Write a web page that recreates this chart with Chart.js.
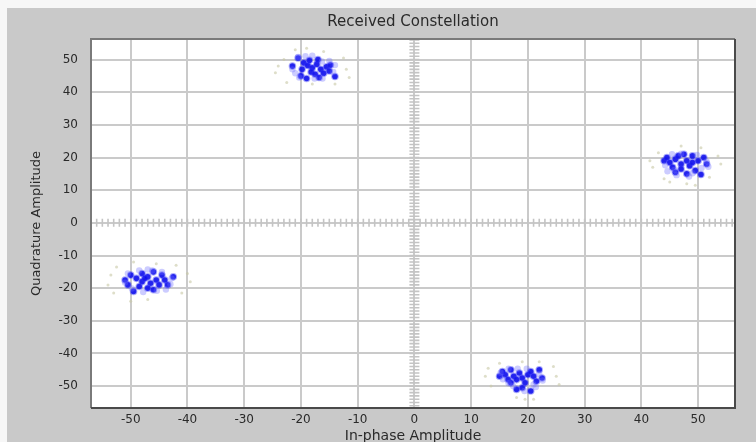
<!DOCTYPE html>
<html>
<head>
<meta charset="utf-8">
<script src="https://cdn.jsdelivr.net/npm/chart.js@4/dist/chart.umd.min.js"></script>
<style>
  html, body { margin: 0; padding: 0; background: #c8c8c8; }
  canvas { display: block; }
</style>
</head>
<body>
<canvas id="c" width="756" height="442"></canvas>
<script>
// ---- Data ----
const chartTitle = "Received Constellation";
const xTitle = "In-phase Amplitude";
const yTitle = "Quadrature Amplitude";
const xTickValues = [-50, -40, -30, -20, -10, 0, 10, 20, 30, 40, 50];
const yTickValues = [-50, -40, -30, -20, -10, 0, 10, 20, 30, 40, 50];

// cluster near (-18, 48)
const c1Dark = [[-20.5,50.5],[-19.5,49],[-18.8,48.2],[-18,47.5],[-17.2,48.6],[-16.5,47],[-15.5,47.8],[-14.8,48.3],[-19.8,47],[-18.2,46.2],[-17.5,45.5],[-16,45.8],[-14,44.8],[-20,45],[-18.5,49.8],[-17,50],[-21.5,48],[-15,46.5],[-16.8,44.5],[-19,44.2]];
const c1Light = [[-21.5,47],[-20.5,50.8],[-20.3,44.5],[-14.3,46.2],[-15,49.6],[-18,51.2],[-17.6,44.2],[-16.2,44.2],[-21,45.8],[-14,48.3],[-19.2,51],[-16.3,49.4]];
const c1Faint = [[-24,48],[-23,50],[-12,47],[-11.5,44.5],[-19,53.5],[-16,52.5],[-22.5,43],[-18,42.5],[-14,42.5],[-12.5,50.5],[-21,53],[-24.5,46]];

// cluster near (48, 18)
const c2Dark = [[44,19],[45,18.5],[46,19.5],[47,18],[48,19],[48.5,17.5],[49,18.5],[50,19],[51,20],[46.5,20.5],[47.5,21],[45.5,17],[47,16.5],[48,15],[49.5,16],[50.5,14.8],[46,15.5],[44.5,20],[49,20.5],[51.5,18]];
const c2Light = [[44.2,17.6],[45.4,21],[47,21.2],[49.8,20.8],[51.5,18.8],[46.2,14.6],[48.4,14.2],[50.6,16.8],[44.6,15.8],[51.8,17.2],[49,15.2],[45.8,16.2]];
const c2Faint = [[41.5,19],[42,17],[53.5,20.5],[54,18],[47,23.5],[49.5,11.5],[48,12],[45,12.5],[52,14],[43,21.5],[50.5,23],[44,13.5]];

// cluster near (-47, -18)
const c3Dark = [[-51,-17.5],[-50,-16],[-49,-17],[-48,-18],[-47,-16.5],[-46.5,-18.5],[-45.5,-17.5],[-44.5,-16],[-43.5,-19],[-48.5,-19.5],[-47,-20],[-49.5,-21],[-46,-20.5],[-45,-19],[-50.5,-19],[-48,-15.5],[-44,-17.5],[-46,-15],[-42.5,-16.5],[-47.5,-17]];
const c3Light = [[-51,-18.3],[-50.5,-15.5],[-48.5,-14.6],[-46.2,-14.6],[-44.5,-15],[-43,-18.8],[-45.4,-20.8],[-47.8,-21.2],[-49.8,-20.1],[-43.8,-20.4],[-47,-14.3],[-42.8,-17]];
const c3Faint = [[-54,-19],[-53.5,-16],[-52.5,-13.5],[-49.5,-12],[-45.5,-12.5],[-42,-13],[-40,-15.5],[-39.5,-18],[-41,-21.5],[-47,-23.5],[-50,-24],[-53,-21.5]];

// cluster near (18, -48)
const c4Dark = [[15,-47],[16,-46.5],[17,-45],[17.5,-47],[18,-48],[18.5,-46],[19,-47.5],[19.5,-49],[20,-46.5],[20.5,-45.5],[21,-47],[21.5,-48.5],[22,-45],[19,-50.5],[18,-51],[16.5,-48],[20.5,-51.5],[17,-49],[22.5,-47.5],[15.5,-45.5]];
const c4Light = [[15.2,-45.9],[15.6,-47.9],[16.6,-44.7],[18.2,-44.7],[19.8,-44.7],[22,-46.3],[22.6,-48.3],[21,-49.5],[17.4,-50],[16.6,-49.1],[21.4,-50.3],[19.4,-51.5]];
const c4Faint = [[12.5,-47],[13,-44.5],[15,-43],[19,-42.5],[22,-42.5],[24.5,-44],[25,-47],[25.5,-49.5],[18,-53.5],[19.5,-54],[21,-54],[13.5,-50]];

// ---- build ----
const toXY = arr => arr.map(p => ({x: p[0], y: p[1]}));
const faintPts = toXY([...c1Faint, ...c2Faint, ...c3Faint, ...c4Faint]);
const lightPts = toXY([...c1Light, ...c2Light, ...c3Light, ...c4Light]);
const darkPts  = toXY([...c1Dark, ...c2Dark, ...c3Dark, ...c4Dark]);

const PLOT = { left: 91, right: 735, top: 39, bottom: 408 };

const bgPlugin = {
  id: 'bg',
  beforeDraw(chart) {
    const ctx = chart.ctx, W = chart.width, H = chart.height, a = chart.chartArea;
    ctx.save();
    ctx.fillStyle = '#f7f7f7';
    ctx.fillRect(0, 0, W, H);
    ctx.fillStyle = '#c9c9c9';
    ctx.fillRect(7, 8, W - 7, H - 8);
    ctx.fillStyle = '#ffffff';
    ctx.fillRect(a.left, a.top, a.right - a.left, a.bottom - a.top);
    ctx.restore();
  },
  beforeDatasetsDraw(chart) {
    // minor tick marks along the zero axes
    const ctx = chart.ctx, xs = chart.scales.x, ys = chart.scales.y;
    const x0 = xs.getPixelForValue(0), y0 = ys.getPixelForValue(0);
    ctx.save();
    ctx.strokeStyle = '#c4c4c4';
    ctx.lineWidth = 1.6;
    ctx.beginPath();
    for (let v = Math.ceil(xs.min); v <= Math.floor(xs.max); v++) {
      const px = xs.getPixelForValue(v);
      ctx.moveTo(px, y0 - 4); ctx.lineTo(px, y0 + 4);
    }
    for (let v = Math.ceil(ys.min); v <= Math.floor(ys.max); v++) {
      const py = ys.getPixelForValue(v);
      ctx.moveTo(x0 - 5, py); ctx.lineTo(x0 + 5, py);
    }
    ctx.stroke();
    ctx.restore();
  },
  afterDatasetsDraw(chart) {
    const ctx = chart.ctx, a = chart.chartArea;
    ctx.save();
    ctx.lineWidth = 2;
    ctx.strokeStyle = '#7a7a7a';
    ctx.beginPath();
    ctx.moveTo(a.left, a.bottom); ctx.lineTo(a.left, a.top); ctx.lineTo(a.right, a.top);
    ctx.stroke();
    ctx.strokeStyle = '#4a4a4a';
    ctx.beginPath();
    ctx.moveTo(a.right, a.top); ctx.lineTo(a.right, a.bottom); ctx.lineTo(a.left, a.bottom);
    ctx.stroke();
    ctx.restore();
  }
};

new Chart(document.getElementById('c'), {
  type: 'scatter',
  data: {
    datasets: [
      { label: 'faint', data: faintPts, pointRadius: 1.5, pointBorderWidth: 0,
        backgroundColor: 'rgba(200,200,165,0.6)', borderColor: 'rgba(0,0,0,0)' },
      { label: 'light', data: lightPts, pointRadius: 3.2, pointBorderWidth: 0,
        backgroundColor: 'rgba(110,110,255,0.35)', borderColor: 'rgba(0,0,0,0)' },
      { label: 'dark', data: darkPts, pointRadius: 2.8, pointBorderWidth: 2,
        backgroundColor: 'rgba(10,10,235,0.9)', borderColor: 'rgba(50,50,245,0.4)' }
    ]
  },
  options: {
    responsive: false,
    animation: false,
    events: [],
    layout: { padding: { left: 0, top: 0, right: 756 - PLOT.right, bottom: 0 } },
    plugins: {
      legend: { display: false },
      tooltip: { enabled: false },
      title: {
        display: true, text: chartTitle, fullSize: false, color: '#2a2a2a',
        font: { family: 'DejaVu Sans', size: 15, weight: 'normal', lineHeight: 1.2 },
        padding: { top: 13, bottom: 8 }
      }
    },
    scales: {
      x: {
        type: 'linear', min: -57, max: 56.5,
        afterBuildTicks: s => { s.ticks = xTickValues.map(v => ({ value: v })); },
        afterFit: s => { s.height = 442 - PLOT.bottom; },
        grid: { color: '#cacaca', lineWidth: 2, drawTicks: false },
        border: { display: false },
        ticks: { color: '#2a2a2a', padding: 5, maxRotation: 0, autoSkip: false,
          font: { family: 'DejaVu Sans', size: 12 }, callback: v => String(v) },
        title: { display: true, text: xTitle, color: '#2a2a2a',
          font: { family: 'DejaVu Sans', size: 14, lineHeight: 1.2 },
          padding: { top: 0, bottom: -3 } }
      },
      y: {
        type: 'linear', min: -56.7, max: 56.3,
        afterBuildTicks: s => { s.ticks = yTickValues.map(v => ({ value: v })); },
        afterFit: s => { s.width = PLOT.left; },
        grid: { color: '#cacaca', lineWidth: 2, drawTicks: false },
        border: { display: false },
        ticks: { color: '#2a2a2a', padding: 13, autoSkip: false,
          font: { family: 'DejaVu Sans', size: 12 }, callback: v => String(v) },
        title: { display: true, text: yTitle, color: '#2a2a2a',
          font: { family: 'DejaVu Sans', size: 13, lineHeight: 1.2 },
          padding: { top: 29, bottom: 0 } }
      }
    }
  },
  plugins: [bgPlugin]
});
</script>
</body>
</html>
